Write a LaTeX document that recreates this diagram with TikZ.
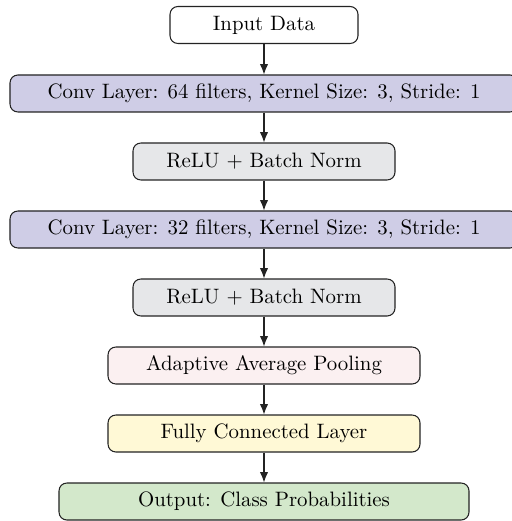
\documentclass[tikz,border=0pt]{standalone}
\usetikzlibrary{arrows.meta}
\definecolor{convc}{RGB}{207,205,230}
\definecolor{reluc}{RGB}{230,231,233}
\definecolor{poolc}{RGB}{251,240,241}
\definecolor{fcc}{RGB}{255,249,214}
\definecolor{outc}{RGB}{211,232,203}
\definecolor{linec}{RGB}{35,35,35}
\begin{document}
\begin{tikzpicture}[x=0.48pt,y=-0.48pt,
  blockbox/.style={draw=linec, line width=0.5pt, rounded corners=3.8pt, minimum height=17.76pt, inner sep=0pt, font=\normalsize},
  flowarrow/.style={draw=linec, line width=0.5pt, -{Latex[length=5pt,width=4pt]}}]
\useasboundingbox (0,0) rectangle (511,521);
\node[blockbox, fill=white, minimum width=90.24pt] (in) at (264,25) {Input Data};
\node[blockbox, fill=convc, minimum width=243.84pt] (c1) at (264,93.5) {Conv Layer: 64 filters, Kernel Size: 3, Stride: 1};
\node[blockbox, fill=reluc, minimum width=125.76pt] (r1) at (264,161.5) {ReLU + Batch Norm};
\node[blockbox, fill=convc, minimum width=243.84pt] (c2) at (264,229.5) {Conv Layer: 32 filters, Kernel Size: 3, Stride: 1};
\node[blockbox, fill=reluc, minimum width=125.76pt] (r2) at (264,297.5) {ReLU + Batch Norm};
\node[blockbox, fill=poolc, minimum width=149.76pt] (ap) at (264,365.5) {Adaptive Average Pooling};
\node[blockbox, fill=fcc, minimum width=149.76pt] (fc) at (264,433.5) {Fully Connected Layer};
\node[blockbox, fill=outc, minimum width=196.8pt] (out) at (264,501.5) {Output: Class Probabilities};
\draw[flowarrow] (in) -- (c1);
\draw[flowarrow] (c1) -- (r1);
\draw[flowarrow] (r1) -- (c2);
\draw[flowarrow] (c2) -- (r2);
\draw[flowarrow] (r2) -- (ap);
\draw[flowarrow] (ap) -- (fc);
\draw[flowarrow] (fc) -- (out);
\end{tikzpicture}
\end{document}
